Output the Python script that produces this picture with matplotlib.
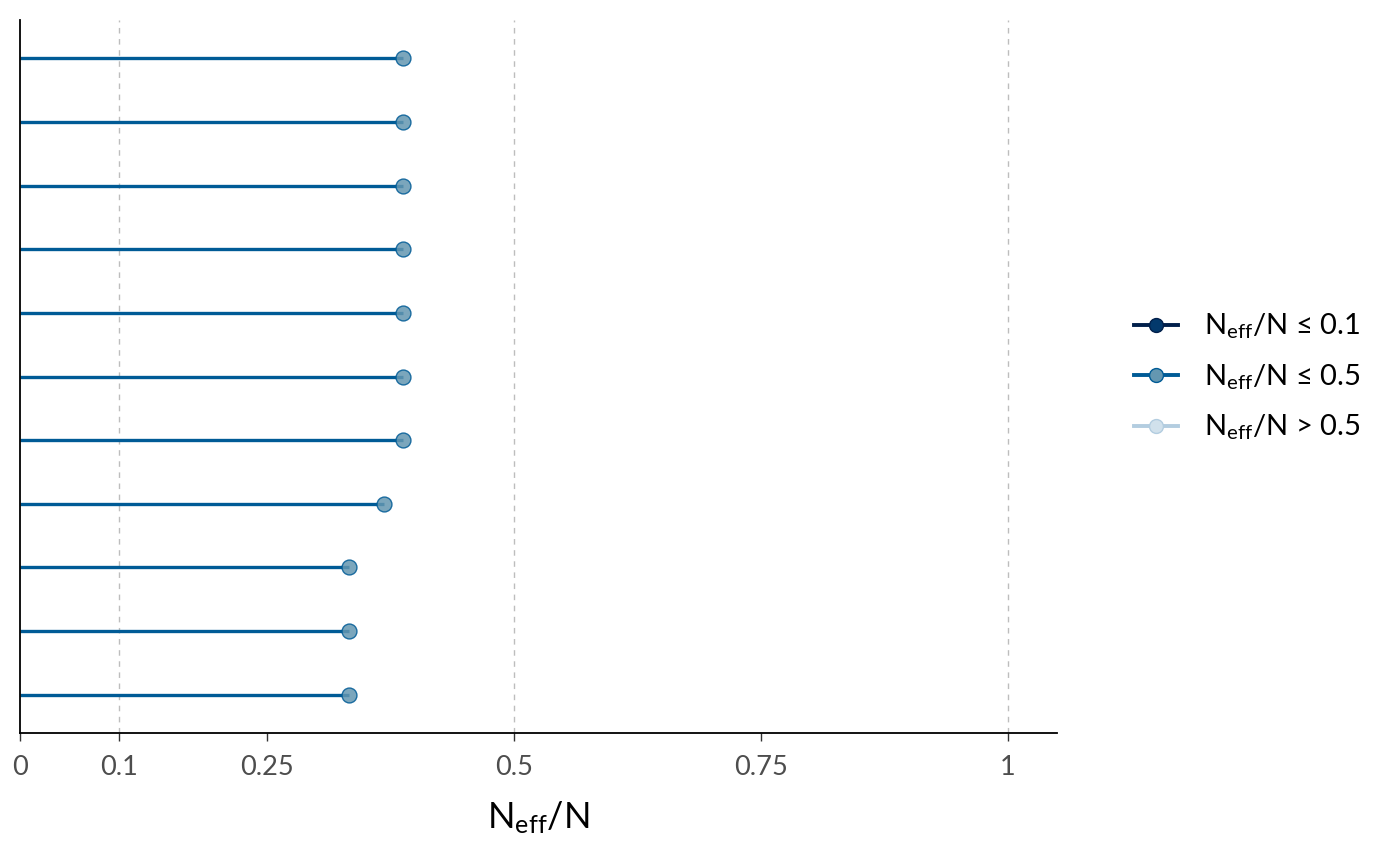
import numpy as np
import matplotlib.pyplot as plt
from matplotlib.lines import Line2D

plt.rcParams["font.family"] = ["Lato", "DejaVu Sans"]
plt.rcParams["mathtext.fontset"] = "custom"
plt.rcParams["mathtext.rm"] = "Lato"

# ratios, bottom row first
ratios = [0.333, 0.333, 0.333, 0.369, 0.388, 0.388, 0.388, 0.388, 0.388, 0.388, 0.388]
x_ticks = [0, 0.1, 0.25, 0.5, 0.75, 1]
x_tick_labels = ["0", "0.1", "0.25", "0.5", "0.75", "1"]
grid_at = [0.1, 0.5, 1]

LINE_MID = "#005b96"
FILL_MID = "#6497b1"

fig = plt.figure(figsize=(14, 8.65), dpi=100)
ax = fig.add_axes([20 / 1400, 132 / 865, 1037 / 1400, 713 / 865])

rows = np.arange(1, len(ratios) + 1)
for g in grid_at:
    ax.axvline(g, color="#bdbdbd", ls=(0, (4, 4)), lw=1.0, zorder=0)

ax.hlines(rows, 0, ratios, color=LINE_MID, lw=2.4, zorder=2)
ax.scatter(ratios, rows, s=115, facecolor=FILL_MID, edgecolor=LINE_MID,
           alpha=0.85, linewidth=1.0, zorder=3)

ax.set_xlim(0, 1.05)
ax.set_ylim(0.4, len(ratios) + 0.6)
ax.set_yticks([])
ax.set_xticks(x_ticks)
ax.set_xticklabels(x_tick_labels, fontsize=19.5, color="#4d4d4d")
ax.tick_params(axis="x", length=6, width=1, color="#333333", pad=10)
ax.spines["top"].set_visible(False)
ax.spines["right"].set_visible(False)
ax.spines["left"].set_linewidth(1.3)
ax.spines["bottom"].set_linewidth(1.3)
ax.set_xlabel(r"$\mathregular{N_{eff}}$/N", fontsize=26, labelpad=14)

handles = [
    Line2D([], [], color="#011f4b", lw=2.8, marker="o", markersize=10,
           markerfacecolor="#03396c", markeredgecolor="#011f4b"),
    Line2D([], [], color=LINE_MID, lw=2.8, marker="o", markersize=10,
           markerfacecolor=FILL_MID, markeredgecolor=LINE_MID),
    Line2D([], [], color="#b3cde0", lw=2.8, marker="o", markersize=10,
           markerfacecolor="#d1e1ec", markeredgecolor="#b3cde0"),
]
labels = [r"$\mathregular{N_{eff}}$/N ≤ 0.1",
          r"$\mathregular{N_{eff}}$/N ≤ 0.5",
          r"$\mathregular{N_{eff}}$/N > 0.5"]
fig.legend(handles, labels, loc="center left", bbox_to_anchor=(1108 / 1400, 488 / 865),
           frameon=False, fontsize=21, handlelength=1.5, handletextpad=0.9,
           labelspacing=0.72)

fig.savefig("out.png", dpi=100)
